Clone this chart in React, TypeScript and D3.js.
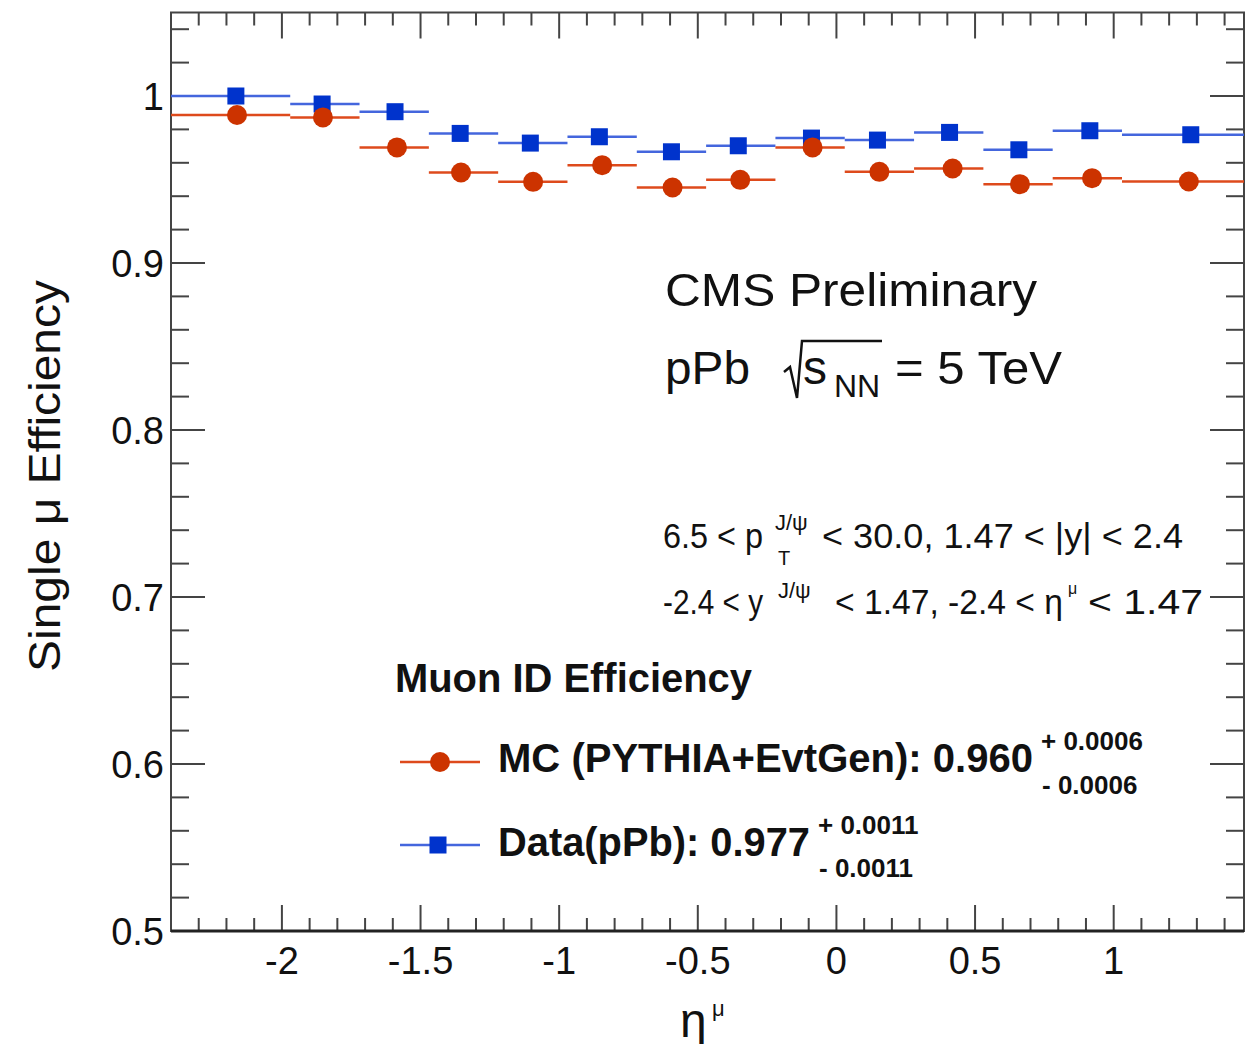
import React from "react";
import * as d3 from "d3";

const binEdges = [-2.4, -1.97, -1.72, -1.47, -1.22, -0.97, -0.72, -0.47, -0.22, 0.03, 0.28, 0.53, 0.78, 1.03, 1.47];
const dataEta = [-2.166, -1.855, -1.592, -1.357, -1.104, -0.855, -0.595, -0.354, -0.09, 0.148, 0.408, 0.658, 0.914, 1.278];
const mcEta = [-2.162, -1.852, -1.585, -1.354, -1.094, -0.845, -0.591, -0.347, -0.086, 0.155, 0.419, 0.662, 0.922, 1.271];
const dataEff = [1.0, 0.9952, 0.9906, 0.9776, 0.9718, 0.9756, 0.9666, 0.9702, 0.9748, 0.9736, 0.9782, 0.9678, 0.9792, 0.9768];
const mcEff = [0.9886, 0.9872, 0.9692, 0.9542, 0.9486, 0.9586, 0.9452, 0.9498, 0.9692, 0.9546, 0.9566, 0.9472, 0.9508, 0.9488];

const xMajorTicks = [-2, -1.5, -1, -0.5, 0, 0.5, 1];
const xTickLabels = ["-2", "-1.5", "-1", "-0.5", "0", "0.5", "1"];
const yMajorTicks = [0.5, 0.6, 0.7, 0.8, 0.9, 1.0];
const yTickLabels = ["0.5", "0.6", "0.7", "0.8", "0.9", "1"];

const FONT = "'Liberation Sans', Arial, Helvetica, sans-serif";
const RED = "#cc3300";
const RED_LINE = "#de4a1c";
const BLUE = "#0033cc";
const BLUE_LINE = "#4466dd";
const AXIS = "#444";

export default function App() {
  const W = 1257, H = 1052;
  const left = 171, right = 1244, top = 12.5, bottom = 931;
  const x = d3.scaleLinear().domain([-2.4, 1.47]).range([left, right]);
  const y = d3.scaleLinear().domain([0.5, 1.05]).range([bottom, top]);

  const xMinor = d3.range(-23, 15).map((v) => v / 10).filter((v) => !xMajorTicks.some((m) => Math.abs(m - v) < 1e-6));
  const yMinor = d3.range(25, 53).map((v) => v / 50).filter((v) => !yMajorTicks.some((m) => Math.abs(m - v) < 1e-6) && v < 1.05 && v > 0.5);

  const bins = dataEta.map((_, i) => ({ lo: binEdges[i], hi: binEdges[i + 1] }));
  const sq = 17;
  const sa = "spacingAndGlyphs";

  return (
    <div style={{ margin: -8 }}>
      <svg width={W} height={H} style={{ display: "block", background: "#fff" }} fontFamily={FONT}>
        {/* ticks */}
        <g stroke={AXIS} strokeWidth={2}>
          {xMajorTicks.map((t) => (
            <g key={"xM" + t}>
              <line x1={x(t)} x2={x(t)} y1={bottom} y2={bottom - 26} />
              <line x1={x(t)} x2={x(t)} y1={top} y2={top + 26} />
            </g>
          ))}
          {xMinor.map((t) => (
            <g key={"xm" + t}>
              <line x1={x(t)} x2={x(t)} y1={bottom} y2={bottom - 13} />
              <line x1={x(t)} x2={x(t)} y1={top} y2={top + 13} />
            </g>
          ))}
          {yMajorTicks.map((t) => (
            <g key={"yM" + t}>
              <line x1={left} x2={left + 34} y1={y(t)} y2={y(t)} />
              <line x1={right} x2={right - 34} y1={y(t)} y2={y(t)} />
            </g>
          ))}
          {yMinor.map((t) => (
            <g key={"ym" + t}>
              <line x1={left} x2={left + 18} y1={y(t)} y2={y(t)} />
              <line x1={right} x2={right - 18} y1={y(t)} y2={y(t)} />
            </g>
          ))}
        </g>
        {/* frame */}
        <rect x={left} y={top} width={right - left} height={bottom - top} fill="none" stroke={AXIS} strokeWidth={2} />
        <line x1={left} x2={right} y1={bottom} y2={bottom} stroke="#222" strokeWidth={3} />

        {/* tick labels */}
        <g fontSize={38} fill="#111">
          {xMajorTicks.map((t, i) => (
            <text key={"xl" + t} x={x(t)} y={974} textAnchor="middle">{xTickLabels[i]}</text>
          ))}
          {yMajorTicks.map((t, i) => (
            <text key={"yl" + t} x={164} y={y(t) + 14} textAnchor="end">{yTickLabels[i]}</text>
          ))}
        </g>

        {/* axis titles */}
        <text x={0} y={0} fontSize={45} fill="#111" textAnchor="middle" textLength={392} lengthAdjust={sa}
          transform={`translate(60,476) rotate(-90)`}>
          Single μ Efficiency
        </text>
        <text x={680} y={1037} fontSize={48} fill="#111">η</text>
        <text x={712} y={1016} fontSize={22} fill="#111">μ</text>

        {/* data: horizontal error bars */}
        <g>
          {bins.map((b, i) => (
            <line key={"dl" + i} x1={x(b.lo)} x2={x(b.hi)} y1={y(dataEff[i])} y2={y(dataEff[i])} stroke={BLUE_LINE} strokeWidth={2.5} />
          ))}
          {bins.map((b, i) => (
            <line key={"ml" + i} x1={x(b.lo)} x2={x(b.hi)} y1={y(mcEff[i])} y2={y(mcEff[i])} stroke={RED_LINE} strokeWidth={2.5} />
          ))}
          {dataEta.map((e, i) => (
            <rect key={"ds" + i} x={x(e) - sq / 2} y={y(dataEff[i]) - sq / 2} width={sq} height={sq} fill={BLUE} />
          ))}
          {mcEta.map((e, i) => (
            <circle key={"mc" + i} cx={x(e)} cy={y(mcEff[i])} r={10} fill={RED} />
          ))}
        </g>

        {/* CMS label */}
        <text x={665} y={306} fontSize={47} fill="#111" textLength={372} lengthAdjust={sa}>CMS Preliminary</text>
        <text x={665} y={384} fontSize={47} fill="#111" textLength={85} lengthAdjust={sa}>pPb</text>
        <path d="M 784 372 L 790 367 L 797 398 L 802 341 L 882 341" fill="none" stroke="#111" strokeWidth={2.5} />
        <text x={803} y={384} fontSize={48} fill="#111">s</text>
        <text x={834} y={397} fontSize={32} fill="#111">NN</text>
        <text x={895} y={384} fontSize={47} fill="#111" textLength={167} lengthAdjust={sa}>= 5 TeV</text>

        {/* kinematic text */}
        <g fontSize={35} fill="#111">
          <text x={663} y={548} textLength={100} lengthAdjust={sa}>6.5 &lt; p</text>
          <text x={775} y={530} fontSize={22}>J/ψ</text>
          <text x={778} y={565} fontSize={20}>T</text>
          <text x={822} y={548} textLength={361} lengthAdjust={sa}>&lt; 30.0, 1.47 &lt; |y| &lt; 2.4</text>
          <text x={663} y={614} textLength={100} lengthAdjust={sa}>-2.4 &lt; y</text>
          <text x={778} y={598} fontSize={22}>J/ψ</text>
          <text x={835} y={614} textLength={228} lengthAdjust={sa}>&lt; 1.47, -2.4 &lt; η</text>
          <text x={1068} y={594} fontSize={16}>μ</text>
          <text x={1088} y={614} textLength={115} lengthAdjust={sa}>&lt; 1.47</text>
        </g>

        {/* legend */}
        <g fill="#111" fontWeight="bold">
          <text x={395} y={692} fontSize={40} textLength={357} lengthAdjust={sa}>Muon ID Efficiency</text>
          <line x1={400} x2={480} y1={762} y2={762} stroke={RED_LINE} strokeWidth={2.5} />
          <circle cx={440} cy={762} r={10} fill={RED} />
          <text x={498} y={772} fontSize={40} textLength={535} lengthAdjust={sa}>MC (PYTHIA+EvtGen): 0.960</text>
          <text x={1041} y={750} fontSize={26}>+ 0.0006</text>
          <text x={1042} y={794} fontSize={26}>- 0.0006</text>
          <line x1={400} x2={480} y1={845} y2={845} stroke={BLUE_LINE} strokeWidth={2.5} />
          <rect x={438 - sq / 2} y={845 - sq / 2} width={sq} height={sq} fill={BLUE} />
          <text x={498} y={856} fontSize={40} textLength={312} lengthAdjust={sa}>Data(pPb): 0.977</text>
          <text x={818} y={834} fontSize={26}>+ 0.0011</text>
          <text x={819} y={877} fontSize={26}>- 0.0011</text>
        </g>
      </svg>
    </div>
  );
}
